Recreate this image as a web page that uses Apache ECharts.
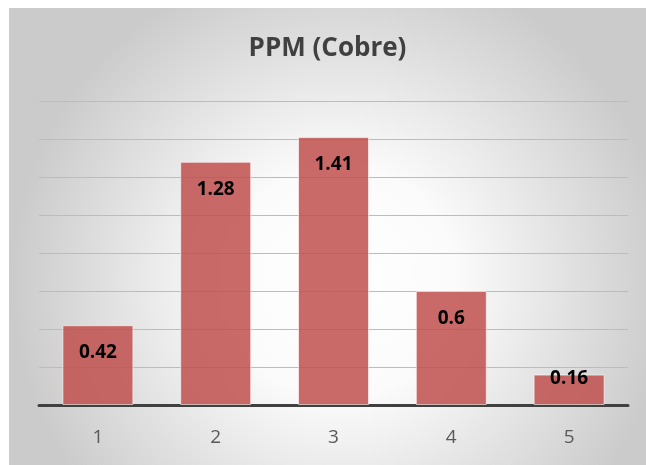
<!DOCTYPE html>
<html>
<head>
<meta charset="utf-8">
<script src="https://cdn.jsdelivr.net/npm/echarts@6/dist/echarts.min.js"></script>
<style>
  html, body { margin: 0; padding: 0; background: #fff; }
  #chart { position: absolute; left: 9px; top: 8px; width: 637px; height: 457px; }
</style>
</head>
<body>
<div id="chart"></div>
<script>
const categories = ['1', '2', '3', '4', '5']
const ppmValues = [0.42, 1.28, 1.41, 0.6, 0.16]
const yMax = 1.6
const yStep = 0.2

// short bars get their label pushed up to the bar top, like in the original
const barData = ppmValues.map(v => v < 0.25
  ? { value: v, label: { offset: [0, -24] } }
  : v)

const chart = echarts.init(document.getElementById('chart'))
chart.setOption({
  backgroundColor: {
    type: 'radial', x: 0.52, y: 0.6, r: 0.72,
    colorStops: [
      { offset: 0, color: '#ffffff' },
      { offset: 0.35, color: '#fbfbfb' },
      { offset: 1, color: '#cbcbcb' }
    ]
  },
  title: {
    text: 'PPM (Cobre)',
    left: 'center',
    top: 23,
    textStyle: { fontFamily: 'Open Sans', fontWeight: 'bold', fontSize: 26, color: '#404040' }
  },
  grid: { left: 30, right: 18, top: 93, bottom: 60 },
  xAxis: {
    type: 'category',
    data: categories,
    axisLine: { lineStyle: { color: '#404040', width: 3 } },
    axisTick: { show: false },
    axisLabel: { fontFamily: 'Open Sans', fontSize: 19, color: '#595959', margin: 23 }
  },
  yAxis: {
    type: 'value',
    min: 0,
    max: yMax,
    interval: yStep,
    axisLabel: { show: false },
    axisLine: { show: false },
    axisTick: { show: false },
    splitLine: { lineStyle: { color: '#bcbcbc', width: 1 } }
  },
  series: [{
    type: 'bar',
    data: barData,
    barWidth: 71,
    itemStyle: {
      color: 'rgba(192,80,77,0.85)',
      borderColor: 'rgba(255,255,255,0.6)',
      borderWidth: 1
    },
    label: {
      show: true,
      position: 'insideTop',
      distance: 18,
      fontFamily: 'Open Sans',
      fontWeight: 'bold',
      fontSize: 19,
      color: '#000'
    }
  }]
})
</script>
</body>
</html>
